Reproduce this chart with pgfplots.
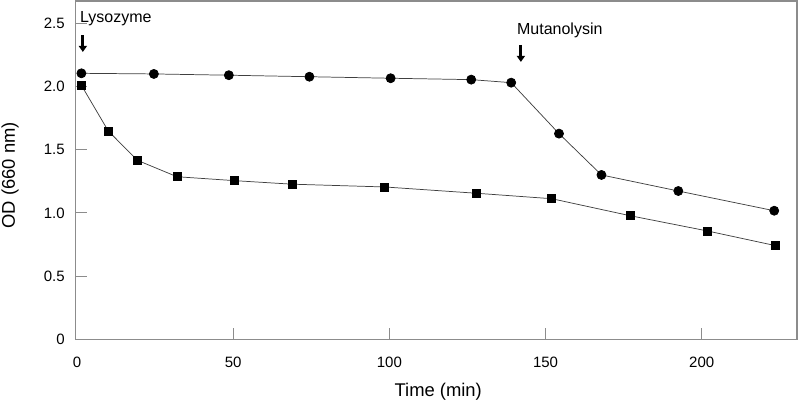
\documentclass[border=0pt]{standalone}
\usepackage{fontspec}
\setmainfont{Liberation Sans}
\usepackage{pgfplots}
\pgfplotsset{compat=1.18}
\usetikzlibrary{arrows.meta}
\definecolor{axgray}{HTML}{8C8C8C}
\definecolor{lngray}{HTML}{404040}
\begin{document}
\begin{tikzpicture}
\begin{axis}[
  scale only axis, width=541.1pt, height=253.7pt,
  xmin=-0.5, xmax=230.5, ymin=0, ymax=2.676,
  axis line style={axgray, line width=0.8pt},
  xtick={50,100,150,200},
  xticklabels={50,100,150,200},
  extra x ticks={0},
  extra x tick labels={0},
  extra x tick style={major tick length=0pt},
  ytick={0,0.5,1,1.5,2,2.5},
  yticklabels={0,0.5,1.0,1.5,2.0,2.5},
  tick pos=left, tick align=inside,
  major tick length=8.5pt,
  tick style={axgray, line width=0.6pt},
  /pgf/number format/assume math mode=true,
  ticklabel style={font=\fontsize{11.25}{13}\selectfont, text=black},
  xticklabel style={anchor=base, yshift=-21pt},
  yticklabel style={anchor=east, inner sep=0pt, xshift=-7.9pt},
  clip=false,
]
\addplot[lngray, line width=0.55pt, mark=*, mark size=3.4pt,
  mark options={fill=black, draw=black, solid}] coordinates {
  (1.4,2.104) (24.6,2.099) (48.6,2.089) (74.4,2.077) (100.4,2.065)
  (126.2,2.054) (139.0,2.030) (154.3,1.627) (167.9,1.300) (192.5,1.173)
  (223.2,1.017)};
\addplot[lngray, line width=0.55pt, mark=square*, mark size=3pt,
  mark options={fill=black, draw=black, solid}] coordinates {
  (1.4,2.009) (10.0,1.648) (19.3,1.416) (32.0,1.286) (50.4,1.255)
  (68.8,1.227) (98.5,1.205) (128.0,1.155) (152.0,1.112) (177.0,0.978)
  (201.8,0.857) (223.6,0.741)};
\node[anchor=west, inner sep=0pt, font=\fontsize{12}{14}\selectfont] at (axis cs:0.9,2.534) {Lysozyme};
\draw[black, line width=2.1pt, -{Triangle[length=4.5pt,width=6pt]}] (axis cs:1.86,2.407) -- (axis cs:1.86,2.273);
\node[anchor=west, inner sep=0pt, font=\fontsize{12}{14}\selectfont] at (axis cs:140.8,2.447) {Mutanolysin};
\draw[black, line width=2.1pt, -{Triangle[length=4.5pt,width=6pt]}] (axis cs:142.1,2.328) -- (axis cs:142.1,2.194);
\end{axis}
\node[rotate=90, font=\fontsize{13.8}{16}\selectfont] at ([xshift=-49.1pt,yshift=-3.75pt]current axis.west) {OD (660 nm)};
\node[font=\fontsize{13.8}{16}\selectfont] at ([xshift=1.5pt,yshift=-39.5pt]current axis.south) {Time (min)};
\pgfresetboundingbox
\path ([shift={(-56.6pt,-48.5pt)}]current axis.south west) rectangle ([shift={(2.25pt,0.75pt)}]current axis.north east);
\end{tikzpicture}
\end{document}
